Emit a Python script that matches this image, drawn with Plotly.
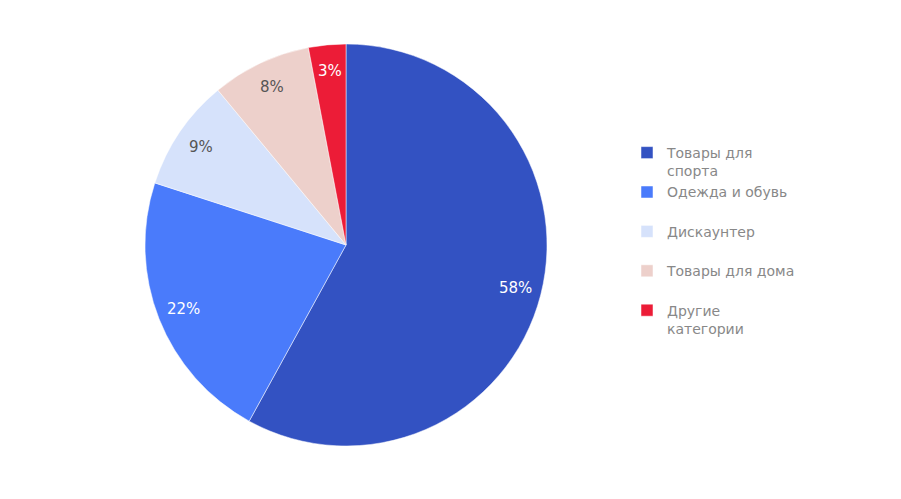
import math
import plotly.graph_objects as go

labels = ["Товары для<br>спорта", "Одежда и обувь<br> ", "Дискаунтер<br> ", "Товары для дома<br> ", "Другие<br>категории"]
values = [58, 22, 9, 8, 3]
colors = ["#3352C2", "#4A7BFB", "#D6E2FB", "#EDD0CB", "#EC1C37"]
text_colors = ["#FFFFFF", "#FFFFFF", "#555555", "#555555", "#FFFFFF"]

W, H = 901, 499
cx, cy, r = 346, 245, 201
label_radius = 0.87
FONT = "Verdana, DejaVu Sans"

fig = go.Figure(go.Pie(
    labels=labels,
    values=values,
    sort=False,
    direction="clockwise",
    rotation=0,
    textinfo="none",
    marker=dict(colors=colors, line=dict(color="#FFFFFF", width=0.5)),
    domain=dict(x=[(cx - r) / W, (cx + r) / W], y=[(H - cy - r) / H, (H - cy + r) / H]),
    hoverinfo="label+percent",
))

# percentage labels placed at a fixed fraction of the radius, as in the original
total = sum(values)
cum = 0
for v, tc in zip(values, text_colors):
    mid = (cum + v / 2) / total * 2 * math.pi
    cum += v
    px = cx + label_radius * r * math.sin(mid)
    py = cy - label_radius * r * math.cos(mid)
    fig.add_annotation(
        x=px / W, y=(H - py) / H, xref="paper", yref="paper",
        text=f"{round(v / total * 100)}%", showarrow=False,
        xanchor="center", yanchor="middle",
        font=dict(family=FONT, size=15, color=tc),
    )

fig.update_layout(
    width=W, height=H,
    margin=dict(l=0, r=0, t=0, b=0),
    paper_bgcolor="white",
    plot_bgcolor="white",
    showlegend=True,
    legend=dict(
        x=627 / W, xanchor="left",
        y=1 - 240.5 / H, yanchor="middle",
        valign="top",
        font=dict(family=FONT, size=14, color="#888888"),
        itemwidth=30,
        bgcolor="rgba(0,0,0,0)",
    ),
)

fig.write_html("out.html")
